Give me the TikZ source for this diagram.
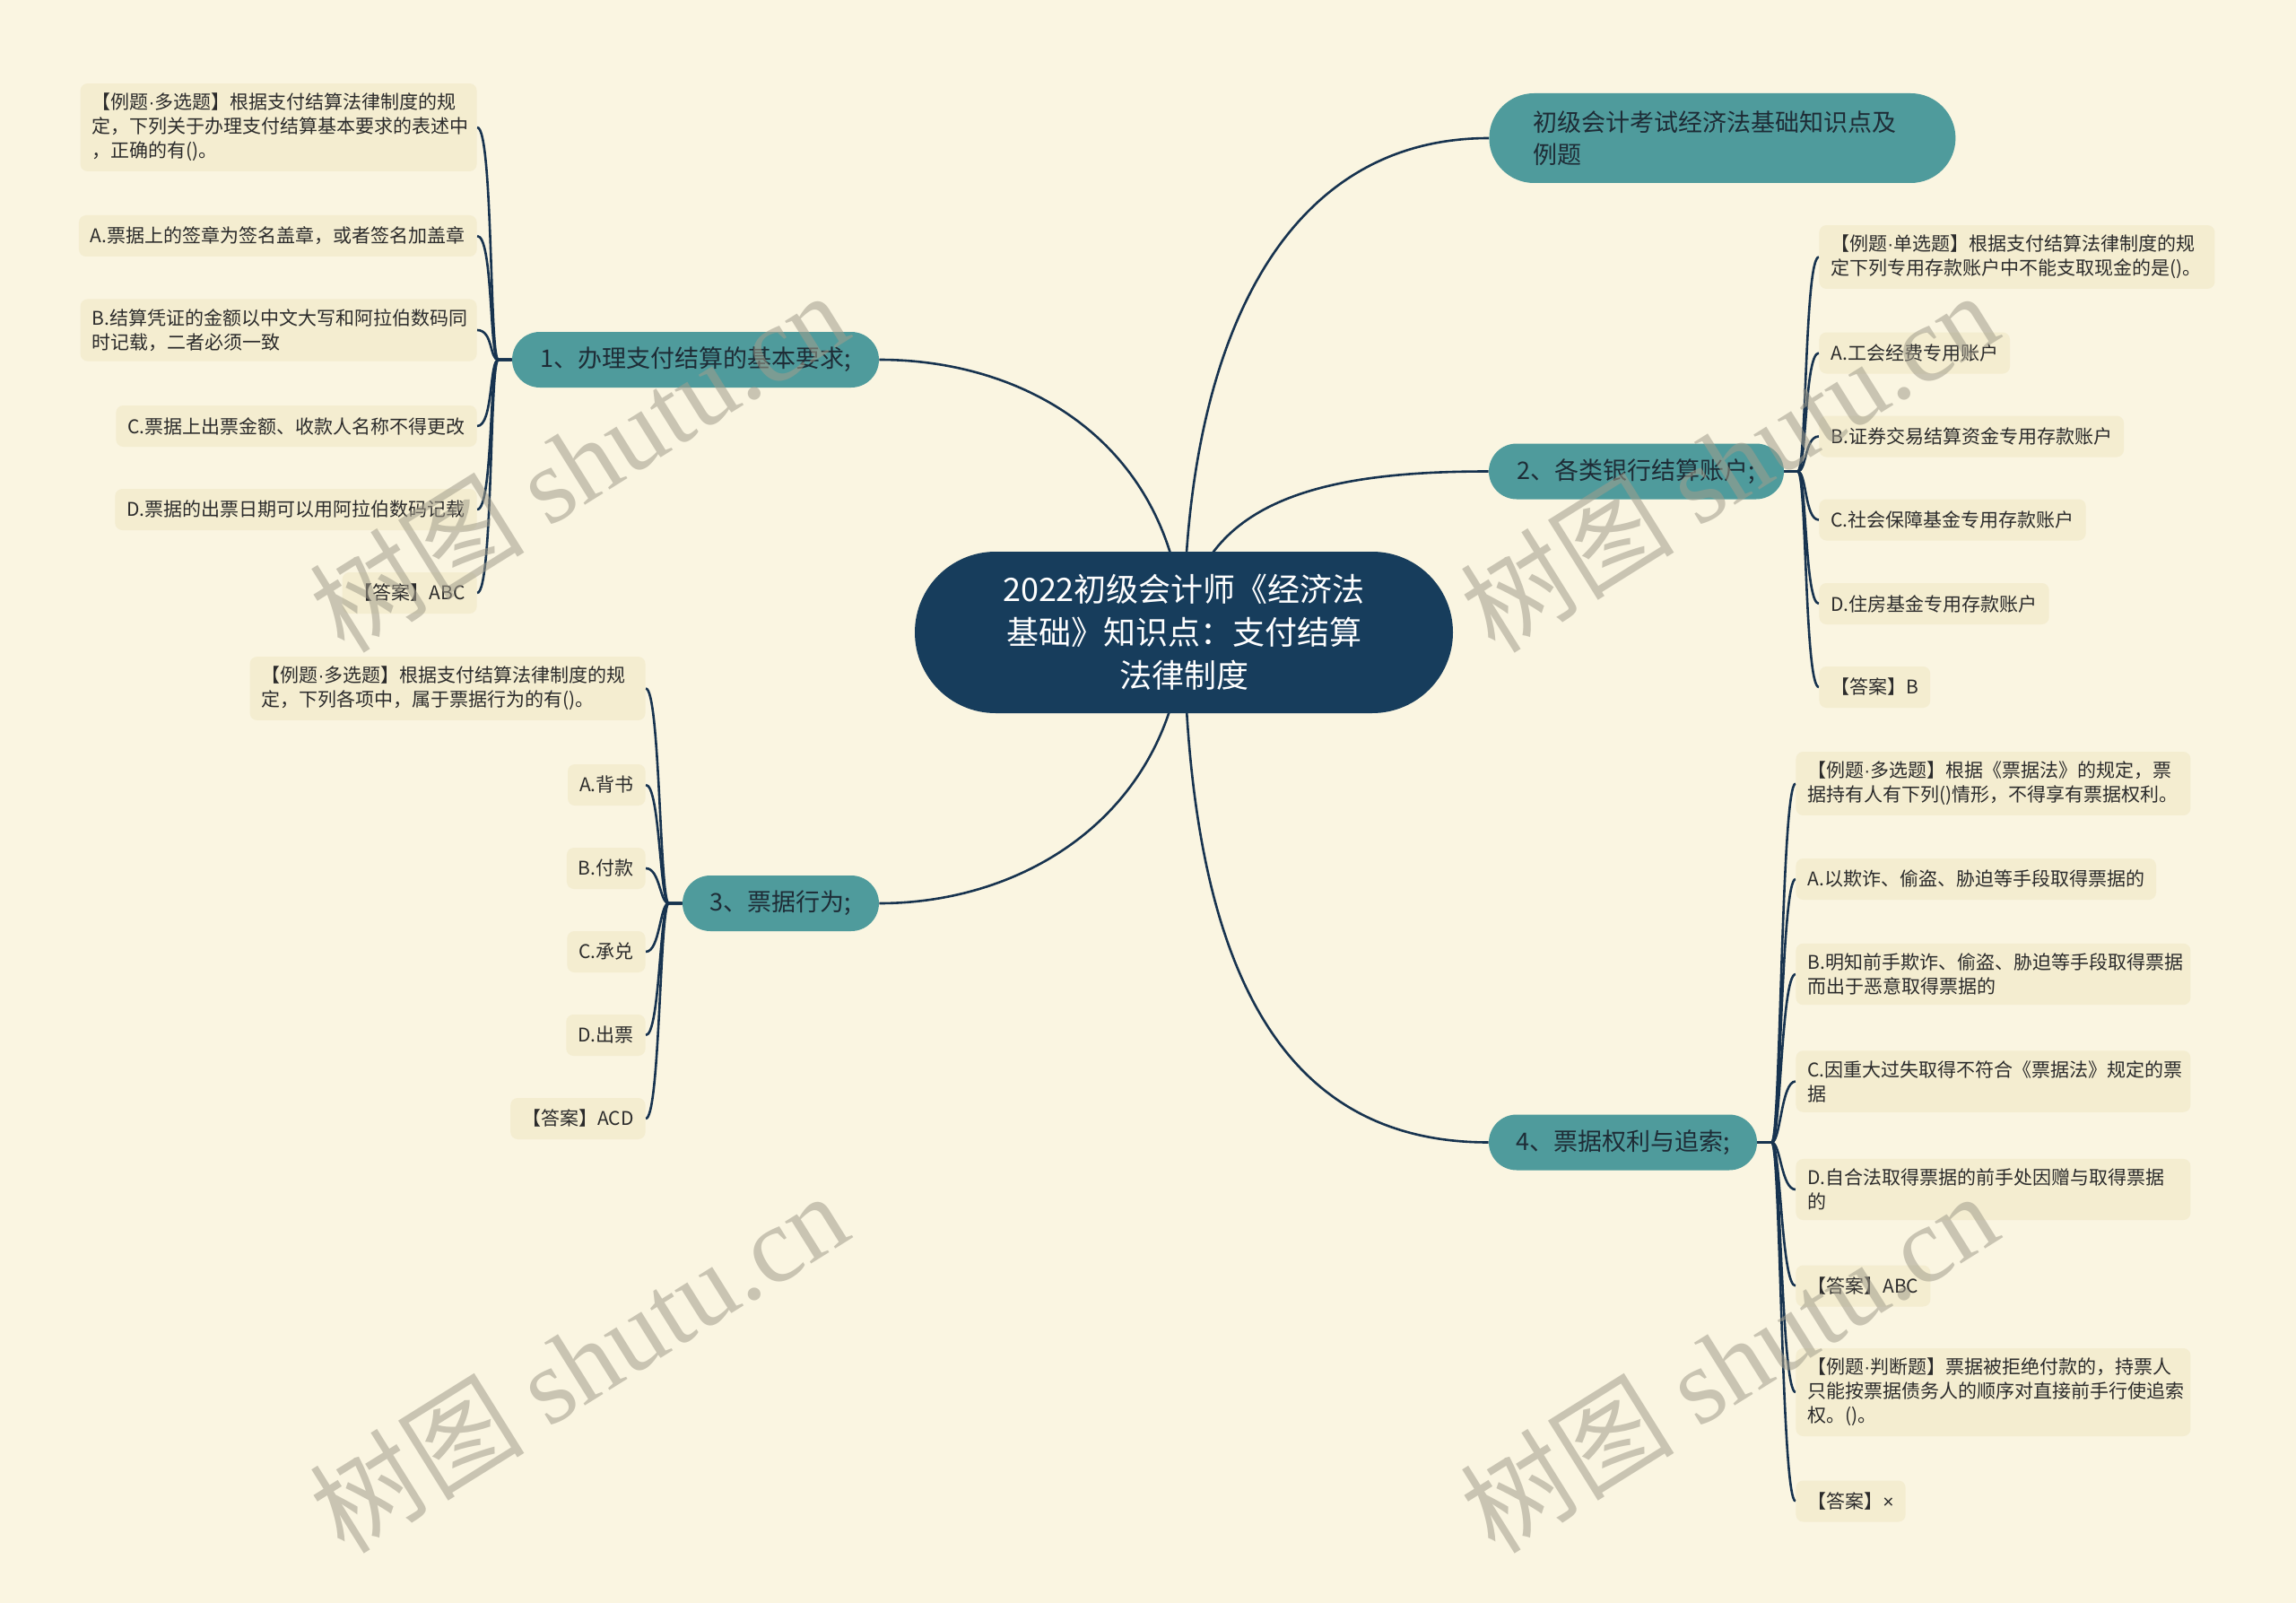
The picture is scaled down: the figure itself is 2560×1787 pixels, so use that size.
\documentclass[tikz,border=0pt]{standalone}
\usepackage{fontspec}
\setmainfont{Noto Sans CJK SC}
\newfontfamily\wmlatin{Liberation Serif}
\newfontfamily\lsans{Liberation Sans}
\newcommand{\mdot}{{\lsans ·}}
\newcommand{\xmark}{{\lsans ×}}
\usetikzlibrary{backgrounds,calc}
\definecolor{bgc}{HTML}{FAF5E1}
\definecolor{leaffill}{HTML}{F4EDD0}
\definecolor{tealc}{HTML}{4F9B9C}
\definecolor{navy}{HTML}{173D5C}
\definecolor{linec}{HTML}{17334F}
\definecolor{txt}{HTML}{2B2B2B}
\definecolor{btxt}{HTML}{1E2C36}
\definecolor{wmc}{HTML}{A29D8C}
\tikzset{
  leaf/.style={fill=leaffill, rounded corners=4pt, inner xsep=6.5pt, inner ysep=5.5pt,
    minimum height=23pt, text=txt, font=\fontsize{10.5pt}{13.5pt}\selectfont, align=left},
  branch/.style={fill=tealc, rounded corners=15.5pt, minimum height=31pt, inner xsep=8pt,
    text=btxt, font=\fontsize{13.5pt}{18pt}\selectfont},
  topic/.style={fill=tealc, rounded corners=25pt, minimum height=50pt, inner xsep=24.5pt,
    text width=211pt, align=left, text=btxt, font=\fontsize{13.5pt}{18pt}\selectfont},
  rootnode/.style={fill=navy, rounded corners=45pt, minimum width=300pt, minimum height=90pt,
    text=white, align=center, font=\fontsize{18pt}{24pt}\selectfont},
  link/.style={draw=linec, line width=1.3pt},
  wmk/.style={text=wmc, text opacity=0.55, font=\fontsize{60pt}{60pt}\selectfont, rotate=32, inner sep=0pt}
}
\begin{document}
\begin{tikzpicture}[x=0.5pt,y=-0.5pt]
\useasboundingbox (0,0) rectangle (2560,1787);
\begin{pgfonlayer}{background}
\fill[bgc] (0,0) rectangle (2560,1787);
\end{pgfonlayer}

% root and main topics
\node[rootnode] (root) at (1320,705) {2022初级会计师《经济法\\基础》知识点：支付结算\\法律制度};
\node[topic, anchor=west] (T) at (1660,154) {初级会计考试经济法基础知识点及\\例题};
\node[branch, minimum width=204.5pt] (b1) at (775.5,401) {1、办理支付结算的基本要求;};
\node[branch, minimum width=164.5pt] (b2) at (1824.5,525.5) {2、各类银行结算账户;};
\node[branch, minimum width=109.5pt] (b3) at (870.5,1007) {3、票据行为;};
\node[branch, minimum width=149.5pt] (b4) at (1809.5,1273.5) {4、票据权利与追索;};

% branch 1 leaves
\node[leaf, anchor=east, text width=208pt] (l1q) at (532,142) {【例题\mdot 多选题】根据支付结算法律制度的规\\定，下列关于办理支付结算基本要求的表述中\\，正确的有()。};
\node[leaf, anchor=east] (l1a) at (532,263) {A.票据上的签章为签名盖章，或者签名加盖章};
\node[leaf, anchor=east, text width=208pt] (l1b) at (532,368) {B.结算凭证的金额以中文大写和阿拉伯数码同\\时记载，二者必须一致};
\node[leaf, anchor=east] (l1c) at (532,475) {C.票据上出票金额、收款人名称不得更改};
\node[leaf, anchor=east] (l1d) at (532,568) {D.票据的出票日期可以用阿拉伯数码记载};
\node[leaf, anchor=east] (l1e) at (532,661) {【答案】ABC};

% branch 2 leaves
\node[leaf, anchor=west, text width=207.5pt] (r2q) at (2028,286.5) {【例题\mdot 单选题】根据支付结算法律制度的规\\定下列专用存款账户中不能支取现金的是()。};
\node[leaf, anchor=west] (r2a) at (2028,393.5) {A.工会经费专用账户};
\node[leaf, anchor=west] (r2b) at (2028,486.5) {B.证券交易结算资金专用存款账户};
\node[leaf, anchor=west] (r2c) at (2028,579.5) {C.社会保障基金专用存款账户};
\node[leaf, anchor=west] (r2d) at (2028,673) {D.住房基金专用存款账户};
\node[leaf, anchor=west] (r2e) at (2028,766) {【答案】B};

% branch 3 leaves
\node[leaf, anchor=east, text width=207.5pt] (l3q) at (720,767.5) {【例题\mdot 多选题】根据支付结算法律制度的规\\定，下列各项中，属于票据行为的有()。};
\node[leaf, anchor=east] (l3a) at (720,875) {A.背书};
\node[leaf, anchor=east] (l3b) at (720,968) {B.付款};
\node[leaf, anchor=east] (l3c) at (720,1061) {C.承兑};
\node[leaf, anchor=east] (l3d) at (720,1154) {D.出票};
\node[leaf, anchor=east] (l3e) at (720,1247) {【答案】ACD};

% branch 4 leaves
\node[leaf, anchor=west, text width=207pt] (r4q) at (2002,873.5) {【例题\mdot 多选题】根据《票据法》的规定，票\\据持有人有下列()情形，不得享有票据权利。};
\node[leaf, anchor=west] (r4a) at (2002,980) {A.以欺诈、偷盗、胁迫等手段取得票据的};
\node[leaf, anchor=west, text width=207pt] (r4b) at (2002,1086) {B.明知前手欺诈、偷盗、胁迫等手段取得票据\\而出于恶意取得票据的};
\node[leaf, anchor=west, text width=207pt] (r4c) at (2002,1205.5) {C.因重大过失取得不符合《票据法》规定的票\\据};
\node[leaf, anchor=west, text width=207pt] (r4d) at (2002,1326) {D.自合法取得票据的前手处因赠与取得票据\\的};
\node[leaf, anchor=west] (r4e) at (2002,1433.5) {【答案】ABC};
\node[leaf, anchor=west, text width=207pt] (r4f) at (2002,1552) {【例题\mdot 判断题】票据被拒绝付款的，持票人\\只能按票据债务人的顺序对直接前手行使追索\\权。()。};
\node[leaf, anchor=west] (r4g) at (2002,1673.5) {【答案】\xmark};

% connectors
\begin{pgfonlayer}{background}
\draw[link] (root.center) .. controls +(0,-305) and +(-240,0) .. (T.west);
\draw[link] (root.center) .. controls +(15,-150) and +(-180,0) .. (b2.west);
\draw[link] (root.center) .. controls +(-10,-205) and +(170,0) .. (b1.east);
\draw[link] (root.center) .. controls +(-10,195) and +(170,0) .. (b3.east);
\draw[link] (root.center) .. controls +(5,395) and +(-220,0) .. (b4.west);
\foreach \n in {l1q,l1a,l1b,l1c,l1d,l1e}
  \draw[link] (b1.west) -- ++(-15,0) .. controls +(-10,0) and +(18,0) .. (\n.east);
\foreach \n in {r2q,r2a,r2b,r2c,r2d,r2e}
  \draw[link] (b2.east) -- ++(15,0) .. controls +(10,0) and +(-16,0) .. (\n.west);
\foreach \n in {l3q,l3a,l3b,l3c,l3d,l3e}
  \draw[link] (b3.west) -- ++(-15,0) .. controls +(-10,0) and +(16,0) .. (\n.east);
\foreach \n in {r4q,r4a,r4b,r4c,r4d,r4e,r4f,r4g}
  \draw[link] (b4.east) -- ++(16,0) .. controls +(10,0) and +(-16,0) .. (\n.west);
\end{pgfonlayer}

% watermarks
\node[wmk] (w1) at (645,514) {树图 {\wmlatin shutu.cn}};
\node[wmk] (w2) at (1927,514) {树图 {\wmlatin shutu.cn}};
\node[wmk] (w3) at (645,1518) {树图 {\wmlatin shutu.cn}};
\node[wmk] (w4) at (1927,1518) {树图 {\wmlatin shutu.cn}};
\end{tikzpicture}
\end{document}
